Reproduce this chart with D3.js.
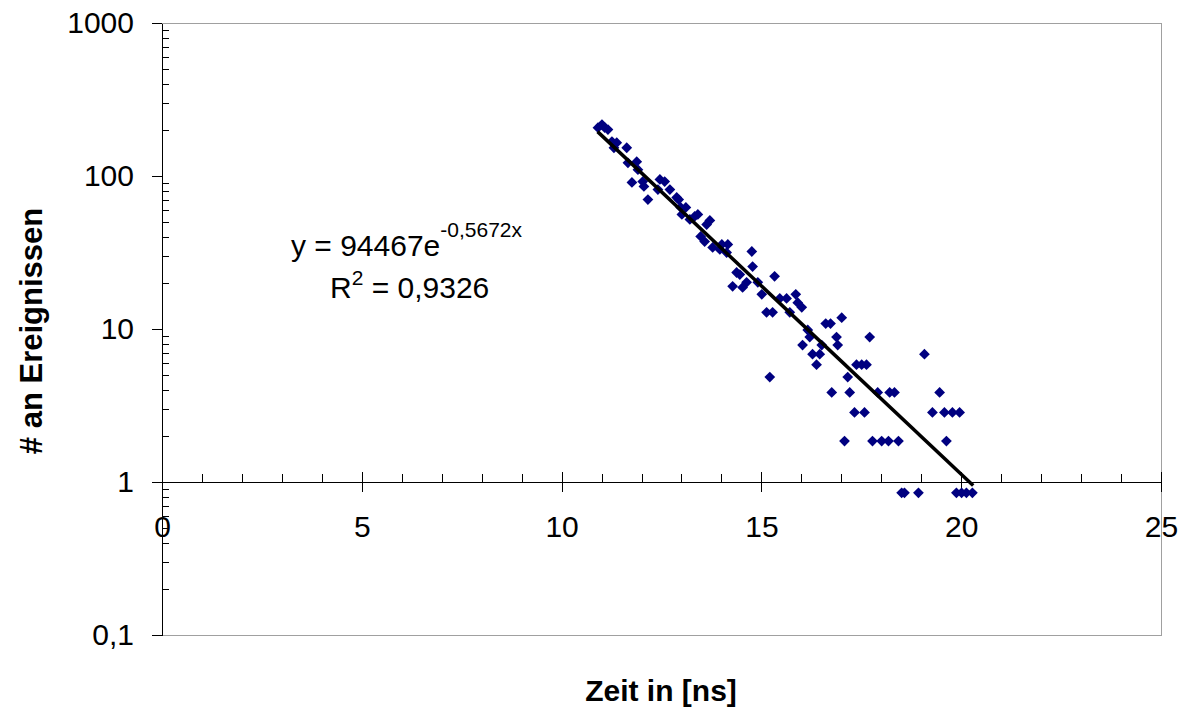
<!DOCTYPE html>
<html>
<head>
<meta charset="utf-8">
<script src="https://cdn.jsdelivr.net/npm/d3@7/dist/d3.min.js"></script>
<style>
  body { margin: 0; background: #fff; }
  svg { display: block; font-family: "Liberation Sans", Arial, sans-serif; }
  .axis path, .axis line { stroke: #000; shape-rendering: crispEdges; }
  .axis text { font-size: 30px; fill: #000; font-family: "Liberation Sans", Arial, sans-serif; }
</style>
</head>
<body>
<div id="chart"></div>
<script>
var width = 1188,
  height = 707;

var zeit = [10.91, 11.01, 11.08, 11.16, 11.26, 11.38, 11.31, 11.63, 11.66, 11.88,
  11.91, 11.76, 12.03, 12.06, 12.16, 12.46, 12.58, 12.41, 12.71, 12.88,
  12.93, 12.98, 13.11, 13.01, 13.33, 13.41, 13.21, 13.71, 13.63, 13.48,
  13.58, 13.78, 14.01, 14.16, 13.96, 14.13, 14.76, 14.78, 14.38, 14.46,
  14.63, 14.53, 14.28, 14.91, 15.01, 15.33, 15.46, 15.63, 15.86, 15.91,
  16.01, 15.71, 15.13, 15.28, 17.01, 16.61, 16.73, 16.16, 16.21, 16.03,
  16.51, 16.88, 16.91, 16.28, 16.46, 16.38, 17.71, 19.08, 15.21, 17.16,
  17.38, 17.51, 17.63, 16.76, 17.21, 17.91, 18.21, 18.33, 19.46, 17.33,
  17.58, 19.28, 19.58, 19.78, 19.96, 17.08, 17.78, 18.01, 18.18, 18.43,
  19.63, 18.51, 18.58, 18.93, 19.88, 20.01, 20.13, 20.28];
var ereignisse = [207, 217, 207, 201, 168, 165, 153, 153, 122, 124,
  110, 90.7, 92, 85.4, 70.2, 94.9, 92, 81.6, 81.6, 72.4,
  70.2, 62.3, 62.3, 56.1, 54.4, 56.1, 52, 51.2, 48.2, 40.3,
  37.3, 34.1, 35.7, 35.7, 33.1, 31.6, 32.1, 25.6, 23.4, 22.7,
  20.2, 18.7, 19.0, 20.2, 16.85, 22.1, 15.85, 15.85, 16.85, 14.85,
  13.85, 12.85, 12.85, 12.85, 11.85, 10.85, 10.85, 9.85, 8.85, 7.85,
  7.85, 8.85, 7.85, 6.85, 6.85, 5.85, 8.85, 6.85, 4.85, 4.85,
  5.85, 5.85, 5.85, 3.85, 3.85, 3.85, 3.85, 3.85, 3.85, 2.85,
  2.85, 2.85, 2.85, 2.85, 2.85, 1.85, 1.85, 1.85, 1.85, 1.85,
  1.85, 0.85, 0.85, 0.85, 0.85, 0.85, 0.85, 0.85];

// exponential trend line endpoints (y = 94467e^-0,5672x)
var trendZeit = [10.9, 20.3];
var trendWerte = [195, 0.95];

var xTicks = [0, 5, 10, 15, 20, 25];
var yTicks = [0.1, 1, 10, 100, 1000];
var yTickLabels = ["0,1", "1", "10", "100", "1000"];

var x = d3.scaleLinear().domain([0, 25]).range([162, 1161]);
var y = d3.scaleLog().domain([0.1, 1000]).range([635, 23]);

var svg = d3.select("#chart").append("svg")
  .attr("width", width)
  .attr("height", height);

// plot area frame
svg.append("rect")
  .attr("x", x(0))
  .attr("y", y(1000))
  .attr("width", x(25) - x(0))
  .attr("height", y(0.1) - y(1000))
  .attr("fill", "none")
  .attr("stroke", "#a0a0a0")
  .attr("stroke-width", 1)
  .attr("shape-rendering", "crispEdges");

// y minor ticks (inside)
var yMinor = [];
[0.1, 1, 10, 100].forEach(function(d) {
  for (var k = 2; k <= 9; k++) yMinor.push(d * k);
});
svg.append("g")
  .attr("class", "axis")
  .attr("transform", "translate(" + x(0) + ",0)")
  .call(d3.axisRight(y).tickValues(yMinor).tickSize(7).tickFormat(""))
  .select(".domain").remove();

// y major ticks + labels
svg.append("g")
  .attr("class", "axis")
  .attr("transform", "translate(" + x(0) + ",0)")
  .call(d3.axisLeft(y).tickValues(yTicks).tickSize(10).tickSizeOuter(0).tickPadding(18)
    .tickFormat(function(d, i) { return yTickLabels[i]; }));

// x minor ticks (above axis)
svg.append("g")
  .attr("class", "axis")
  .attr("transform", "translate(0," + y(1) + ")")
  .call(d3.axisTop(x).tickValues(d3.range(0, 26)).tickSize(8).tickFormat(""))
  .select(".domain").remove();

// x major ticks crossing the axis
svg.append("g")
  .attr("class", "axis")
  .attr("transform", "translate(0," + y(1) + ")")
  .call(d3.axisTop(x).tickValues(xTicks).tickSize(10).tickFormat(""))
  .select(".domain").remove();

svg.append("g")
  .attr("class", "axis")
  .attr("transform", "translate(0," + y(1) + ")")
  .call(d3.axisBottom(x).tickValues(xTicks).tickSize(10).tickSizeOuter(0).tickPadding(24));

// data points
var punkte = zeit.map(function(d, i) { return { x: d, y: ereignisse[i] }; });
svg.append("g")
  .selectAll("path")
  .data(punkte)
  .enter().append("path")
    .attr("d", d3.symbol().type(d3.symbolSquare).size(58))
    .attr("transform", function(d) {
      return "translate(" + x(d.x) + "," + y(d.y) + ") rotate(45)";
    })
    .attr("fill", "#000080");

// trend line
var trend = trendZeit.map(function(d, i) { return { x: d, y: trendWerte[i] }; });
svg.append("path")
  .datum(trend)
  .attr("fill", "none")
  .attr("stroke", "#000")
  .attr("stroke-width", 3.5)
  .attr("d", d3.line()
    .x(function(d) { return x(d.x); })
    .y(function(d) { return y(d.y); }));

// equation
var eq = svg.append("text")
  .attr("x", 291)
  .attr("y", 256)
  .attr("font-size", 30);
eq.append("tspan").text("y = 94467e");
eq.append("tspan").attr("font-size", 21).attr("dy", -19).text("-0,5672x");

var r2 = svg.append("text")
  .attr("x", 330)
  .attr("y", 298)
  .attr("font-size", 30);
r2.append("tspan").text("R");
r2.append("tspan").attr("font-size", 21).attr("dy", -13).text("2");
r2.append("tspan").attr("dy", 13).text(" = 0,9326");

// axis titles
svg.append("text")
  .attr("x", 661)
  .attr("y", 701)
  .attr("text-anchor", "middle")
  .attr("font-weight", "bold")
  .attr("font-size", 30)
  .text("Zeit in [ns]");

svg.append("text")
  .attr("transform", "translate(42,331) rotate(-90)")
  .attr("text-anchor", "middle")
  .attr("font-weight", "bold")
  .attr("font-size", 31)
  .text("# an Ereignissen");
</script>
</body>
</html>
